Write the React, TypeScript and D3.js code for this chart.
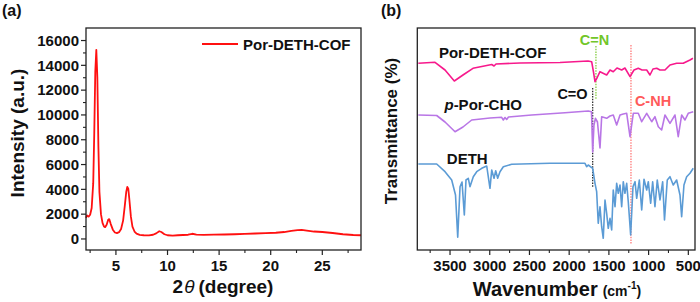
import React from "react";
import * as d3 from "d3";

// ---------- Panel (a): PXRD ----------
const xrdTheta = [2.1, 2.2, 2.35, 2.5, 2.65, 2.8, 2.9, 3.0, 3.1, 3.2, 3.3, 3.4, 3.55, 3.7, 3.85, 3.95, 4.1, 4.25, 4.35, 4.5, 4.7, 4.9, 5.1, 5.3, 5.5, 5.7, 5.85, 6.0, 6.1, 6.2, 6.3, 6.45, 6.6, 6.8, 7.0, 7.3, 7.7, 8.2, 8.6, 8.9, 9.2, 9.4, 9.7, 10.0, 10.5, 11, 11.5, 12, 12.4, 12.8, 13.5, 14.5, 15.5, 16.5, 17.5, 18.5, 19.5, 20.5, 21.3, 22, 22.6, 23, 23.5, 24.2, 25, 26, 27, 28, 28.75];
const xrdIntensity = [1700, 1900, 1800, 1950, 2500, 4500, 8500, 13500, 15250, 13000, 7500, 3800, 2000, 1300, 1000, 950, 1150, 1550, 1600, 1200, 750, 520, 470, 550, 800, 1500, 2600, 3800, 4200, 4050, 3200, 1800, 1000, 600, 430, 330, 300, 290, 340, 450, 620, 560, 380, 300, 270, 300, 320, 340, 420, 350, 330, 350, 360, 380, 410, 440, 470, 500, 560, 650, 720, 740, 680, 600, 560, 480, 380, 320, 300];
const xrdXTicks = [5, 10, 15, 20, 25];
const xrdXMinor = [2.5, 7.5, 12.5, 17.5, 22.5, 27.5];
const xrdYTicks = [0, 2000, 4000, 6000, 8000, 10000, 12000, 14000, 16000];
const xrdYMinor = [1000, 3000, 5000, 7000, 9000, 11000, 13000, 15000];
const xrdLegend = "Por-DETH-COF";

// ---------- Panel (b): FTIR ----------
const cofWn = [3899, 3689, 3563, 3446, 3337, 3211, 2975, 2946, 2921, 2619, 2116, 1763, 1717, 1694, 1675, 1650, 1612, 1528, 1486, 1445, 1398, 1339, 1298, 1234, 1184, 1130, 1083, 1024, 983, 945, 898, 857, 794, 731, 647, 564, 479, 442];
const cofT = [93.35, 93.85, 90, 84.5, 87.5, 90.85, 92.75, 92, 93, 93.5, 93.75, 94.5, 94.15, 89, 84.15, 86, 89.15, 87.5, 90, 89.15, 91, 90, 91, 86.65, 90, 90.85, 90, 90, 87.5, 90.5, 90.85, 90, 90, 92.5, 93.35, 93.35, 95, 95.85];

const choWn = [3899, 3668, 3563, 3437, 3337, 3227, 2997, 2850, 2829, 2808, 2787, 2764, 2472, 2053, 1760, 1719, 1704, 1688, 1669, 1644, 1612, 1591, 1528, 1486, 1445, 1402, 1360, 1319, 1276, 1234, 1193, 1130, 1087, 1024, 961, 920, 878, 836, 794, 731, 668, 627, 584, 542, 501, 438];
const choT = [67.5, 67.25, 64, 59.15, 61.5, 65, 66, 66.35, 65, 66.25, 65.25, 66.5, 67.5, 68.65, 69.5, 69.15, 49, 62.5, 65.85, 64, 51, 66.65, 65.85, 67, 67.5, 62.5, 67.5, 68, 68.35, 56.65, 68.35, 68.35, 64.15, 68.35, 64.15, 66.65, 61.65, 60, 67.5, 63.35, 67.5, 56.65, 67.5, 65, 68.35, 69.15];

const dethWn = [3899, 3668, 3563, 3479, 3431, 3403, 3374, 3349, 3320, 3299, 3270, 3249, 3207, 3164, 3101, 3038, 2997, 2975, 2946, 2925, 2900, 2871, 2829, 2724, 2242, 1801, 1780, 1760, 1704, 1675, 1654, 1634, 1612, 1591, 1571, 1549, 1528, 1508, 1486, 1465, 1445, 1423, 1402, 1382, 1360, 1339, 1319, 1298, 1276, 1256, 1226, 1197, 1171, 1150, 1117, 1087, 1058, 1024, 1004, 974, 949, 920, 891, 857, 823, 800, 765, 731, 690, 647, 605, 584, 555, 521, 479, 438];
const dethT = [43, 43, 39.15, 35, 27.5, 6.35, 31.65, 34, 17.5, 35, 35.85, 31.65, 36.65, 39.15, 40.85, 42, 30.85, 40, 35.85, 39.65, 35.85, 39.15, 41.65, 42.85, 43.35, 43.35, 41.65, 42.5, 40.85, 33.35, 29.15, 13.35, 21.65, 11.65, 5.85, 25, 18.35, 10.85, 15.85, 10, 30, 21.65, 33.35, 28.35, 32.5, 21.65, 34.15, 28.35, 33.35, 24.15, 7.5, 31.65, 34.15, 25.85, 35, 20, 35.35, 30, 34.15, 23.35, 34.15, 21.65, 35, 25, 34.15, 15, 35, 36.65, 32.5, 35, 27.5, 16.65, 32.5, 36.65, 38.35, 40.85];

const ftirTicks = [3500, 3000, 2500, 2000, 1500, 1000, 500];
const ftirMinor = [3750, 3250, 2750, 2250, 1750, 1250, 750];

const seriesNames = ["Por-DETH-COF", "p-Por-CHO", "DETH"];
const seriesColors = ["#f7198c", "#b976e6", "#5b9bd5"];

// marker lines: [wavenumber, top T, bottom T]
const markerNames = ["C=N", "C=O", "C-NH"];
const markerWn = [1663, 1704, 1222];
const markerTop = [102, 81, 102.5];
const markerBottom = [75, 31, 3];
const markerColors = ["#7cc832", "#222222", "#ff7070"];
const markerLabelColors = ["#72c629", "#111111", "#ff5a5a"];

const FONT = "'Liberation Sans', Arial, Helvetica, sans-serif";

export default function App() {
  // Panel a scales
  const xA = d3.scaleLinear().domain([2.1, 28.75]).range([86, 361]);
  const yA = d3.scaleLinear().domain([-890, 17010]).range([250, 28]);
  const xrdPts = xrdTheta.map((t, i) => [t, xrdIntensity[i]] as [number, number]);
  const lineA = d3.line<[number, number]>().x((d) => xA(d[0])).y((d) => yA(d[1]));

  // Panel b scales
  const xB = d3.scaleLinear().domain([3912, 416]).range([417.3, 695]);
  const yB = d3.scaleLinear().domain([0, 111]).range([250, 28]);
  const lineB = d3.line<[number, number]>().x((d) => xB(d[0])).y((d) => yB(d[1]));
  const ftir = [
    cofWn.map((w, i) => [w, cofT[i]] as [number, number]),
    choWn.map((w, i) => [w, choT[i]] as [number, number]),
    dethWn.map((w, i) => [w, dethT[i]] as [number, number]),
  ];

  const axisColor = "#222";
  const tickFont = { fontFamily: FONT, fontSize: 15, fontWeight: 700, fill: "#111" } as const;

  // label positions for series (in data coords)
  const seriesLabelWn = [3640, 3570, 3540];
  const seriesLabelT = [96, 70, 43];

  return (
    <svg
      width={700}
      height={302}
      viewBox="0 0 700 302"
      style={{ position: "absolute", left: 0, top: 0, background: "#fff" }}
    >
      <rect x={0} y={0} width={700} height={302} fill="#fff" />

      {/* ---------- Panel (a) ---------- */}
      <text x={2} y={16} style={{ fontFamily: FONT, fontSize: 16, fontWeight: 700 }} fill="#111">(a)</text>

      <path d={lineA(xrdPts) ?? ""} fill="none" stroke="#ff1010" strokeWidth={1.8} strokeLinejoin="round" />

      {/* frame */}
      <rect x={xA.range()[0]} y={yA.range()[1]} width={xA.range()[1] - xA.range()[0]} height={yA.range()[0] - yA.range()[1]} fill="none" stroke={axisColor} strokeWidth={1.3} />

      {/* x ticks */}
      {xrdXTicks.map((t) => (
        <g key={"ax" + t}>
          <line x1={xA(t)} x2={xA(t)} y1={250} y2={255} stroke={axisColor} strokeWidth={1.2} />
          <text x={xA(t)} y={271} textAnchor="middle" style={tickFont}>{t}</text>
        </g>
      ))}
      {xrdXMinor.map((t) => (
        <line key={"axm" + t} x1={xA(t)} x2={xA(t)} y1={250} y2={253} stroke={axisColor} strokeWidth={1.1} />
      ))}
      {/* y ticks */}
      {xrdYTicks.map((t) => (
        <g key={"ay" + t}>
          <line x1={86} x2={81} y1={yA(t)} y2={yA(t)} stroke={axisColor} strokeWidth={1.2} />
          <text x={79} y={yA(t) + 5.3} textAnchor="end" style={tickFont}>{t}</text>
        </g>
      ))}
      {xrdYMinor.map((t) => (
        <line key={"aym" + t} x1={86} x2={83} y1={yA(t)} y2={yA(t)} stroke={axisColor} strokeWidth={1.1} />
      ))}

      {/* axis titles */}
      <text
        transform={`translate(23.5,133) rotate(-90)`}
        textAnchor="middle"
        style={{ fontFamily: FONT, fontSize: 19, fontWeight: 700 }}
        fill="#111"
      >
        Intensity (a.u.)
      </text>
      <text x={223} y={293} textAnchor="middle" style={{ fontFamily: FONT, fontSize: 19, fontWeight: 700, whiteSpace: "pre" }} fill="#111">
        <tspan>2</tspan>
        <tspan fontStyle="italic" fontWeight={400} dx={1}>θ</tspan>
        <tspan dx={4}>(degree)</tspan>
      </text>

      {/* legend */}
      <line x1={202} x2={238} y1={44} y2={44} stroke="#ff1010" strokeWidth={1.8} />
      <text x={243} y={50} style={{ fontFamily: FONT, fontSize: 15, fontWeight: 700 }} fill="#111">{xrdLegend}</text>

      {/* ---------- Panel (b) ---------- */}
      <text x={381} y={16} style={{ fontFamily: FONT, fontSize: 16, fontWeight: 700 }} fill="#111">(b)</text>

      {/* marker lines */}
      {markerWn.map((w, i) => (
        <line
          key={"mk" + i}
          x1={xB(w)}
          x2={xB(w)}
          y1={yB(markerTop[i])}
          y2={yB(markerBottom[i])}
          stroke={markerColors[i]}
          strokeWidth={1.2}
          strokeDasharray="1.5,1.2"
        />
      ))}

      {ftir.map((pts, i) => (
        <path key={"ft" + i} d={lineB(pts) ?? ""} fill="none" stroke={seriesColors[i]} strokeWidth={1.6} strokeLinejoin="round" />
      ))}

      {/* frame */}
      <rect x={417.3} y={28} width={695 - 417.3} height={222} fill="none" stroke={axisColor} strokeWidth={1.3} />

      {ftirTicks.map((t) => (
        <g key={"bx" + t}>
          <line x1={xB(t)} x2={xB(t)} y1={250} y2={255} stroke={axisColor} strokeWidth={1.2} />
          <text x={xB(t)} y={271} textAnchor="middle" style={tickFont}>{t}</text>
        </g>
      ))}
      {ftirMinor.map((t) => (
        <line key={"bxm" + t} x1={xB(t)} x2={xB(t)} y1={250} y2={253} stroke={axisColor} strokeWidth={1.1} />
      ))}

      {/* series labels */}
      {seriesNames.map((n, i) => (
        <text
          key={"sl" + i}
          x={xB(seriesLabelWn[i])}
          y={yB(seriesLabelT[i])}
          style={{ fontFamily: FONT, fontSize: 15, fontWeight: 700 }}
          fill="#111"
        >
          {n.startsWith("p-") ? (
            <>
              <tspan fontStyle="italic">p</tspan>
              {n.slice(1)}
            </>
          ) : (
            n
          )}
        </text>
      ))}

      {/* marker labels */}
      <text x={594.5} y={45} textAnchor="middle" style={{ fontFamily: FONT, fontSize: 14.5, fontWeight: 700 }} fill={markerLabelColors[0]}>{markerNames[0]}</text>
      <text x={572.5} y={99} textAnchor="middle" style={{ fontFamily: FONT, fontSize: 14.5, fontWeight: 700 }} fill={markerLabelColors[1]}>{markerNames[1]}</text>
      <text x={653} y={106} textAnchor="middle" style={{ fontFamily: FONT, fontSize: 14.5, fontWeight: 700 }} fill={markerLabelColors[2]}>{markerNames[2]}</text>

      {/* axis titles */}
      <text
        transform={`translate(397,131) rotate(-90)`}
        textAnchor="middle"
        style={{ fontFamily: FONT, fontSize: 17, fontWeight: 700 }}
        fill="#111"
      >
        Transmittance (%)
      </text>
      <text x={557} y={296} textAnchor="middle" style={{ fontFamily: FONT, fontSize: 20, fontWeight: 700 }} fill="#111">
        <tspan>Wavenumber</tspan>
        <tspan fontSize={14} dx={5}>(cm</tspan>
        <tspan fontSize={10} dy={-7}>-1</tspan>
        <tspan fontSize={14} dy={7}>)</tspan>
      </text>
    </svg>
  );
}
